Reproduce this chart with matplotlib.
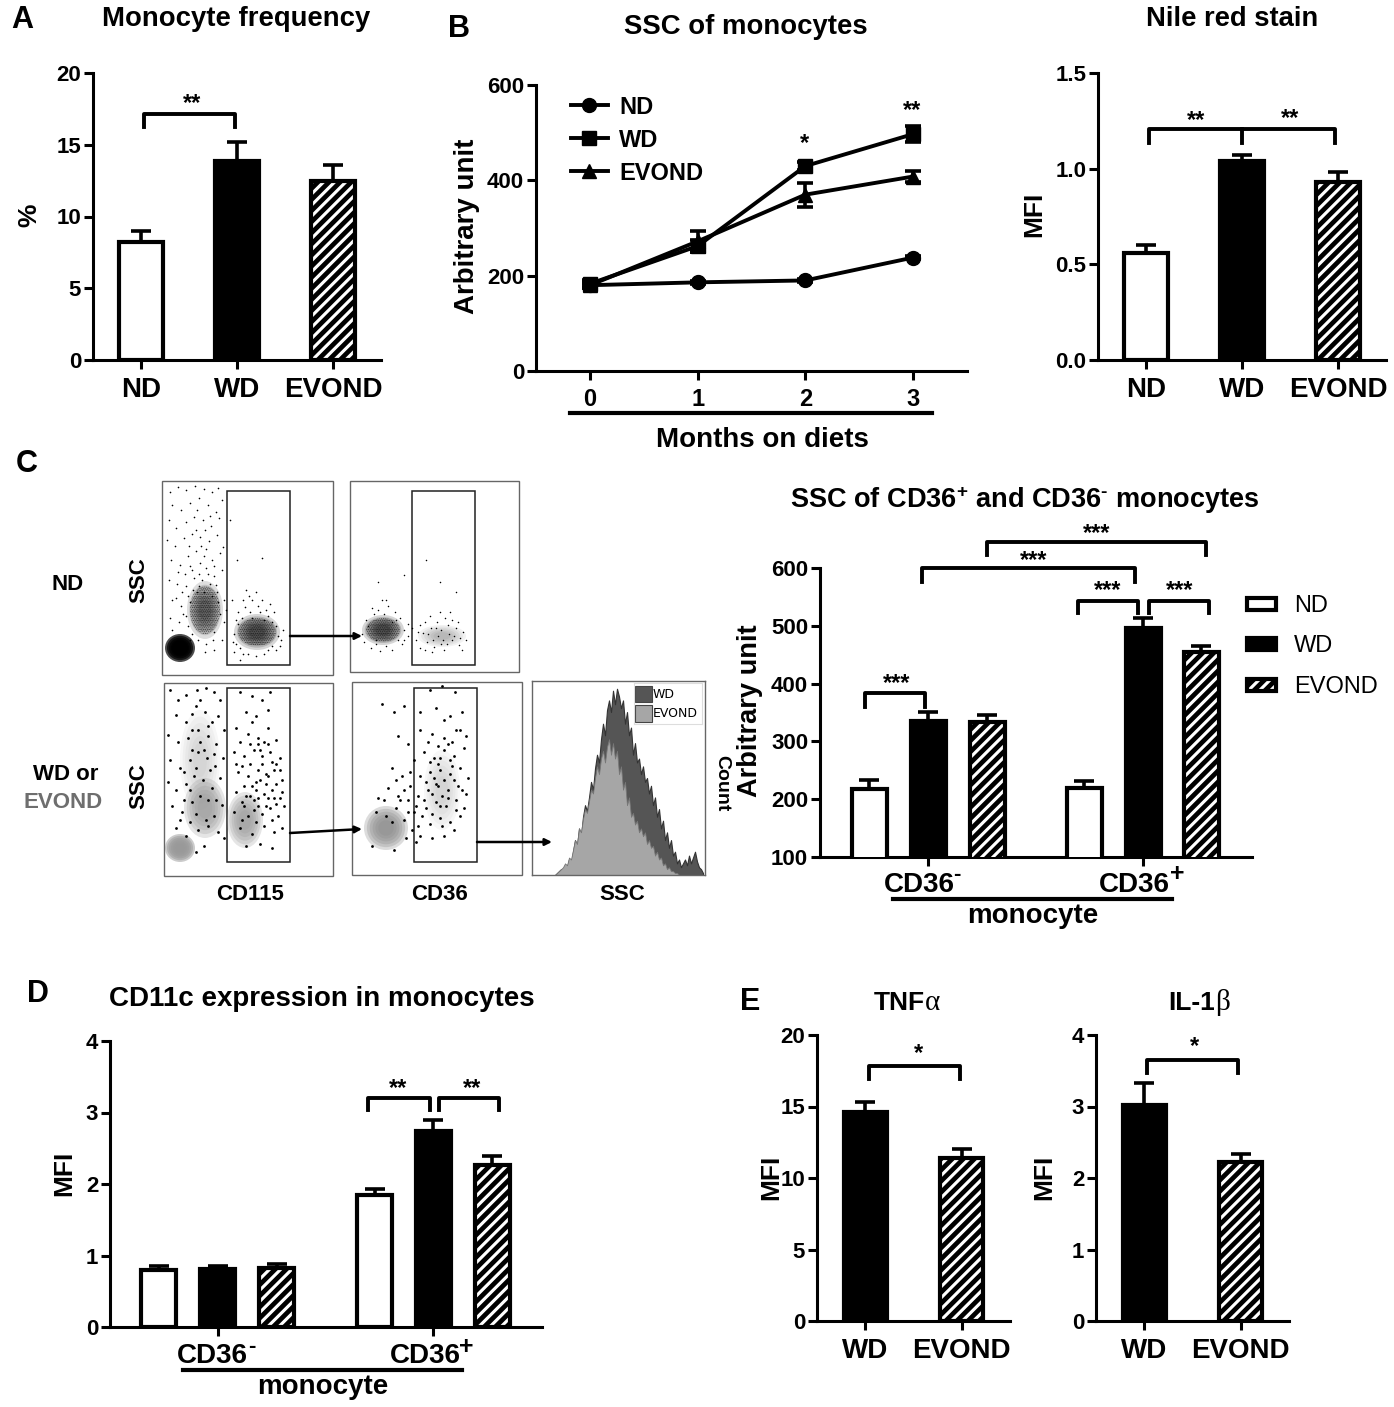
import numpy as np
import matplotlib
matplotlib.use("Agg")
import matplotlib.pyplot as plt
from matplotlib.lines import Line2D
from matplotlib.patches import Rectangle, Ellipse

plt.rcParams['font.family'] = ['Liberation Sans', 'DejaVu Sans']
plt.rcParams['mathtext.fontset'] = 'custom'
plt.rcParams['mathtext.rm'] = 'Liberation Sans'
plt.rcParams['mathtext.bf'] = 'Liberation Sans:bold'
plt.rcParams['hatch.linewidth'] = 3.4

W, H = 1394, 1407

# bar data (value, top of error bar)
diets = ['ND', 'WD', 'EVOND']
freq_vals = [8.2, 13.9, 12.5]
freq_tops = [9.0, 15.2, 13.6]
nile_vals = [0.56, 1.04, 0.93]
nile_tops = [0.60, 1.07, 0.98]

months = [0, 1, 2, 3]
ssc_nd = [180, 186, 190, 238]
ssc_wd = [183, 262, 430, 497]
ssc_ev = [180, 272, 370, 408]
ssc_nd_err = [3, 3, 3, 3]
ssc_wd_err = [8, 12, 8, 16]
ssc_ev_err = [6, 22, 25, 12]

cd36_vals = [218, 336, 333, 220, 496, 454]
cd36_tops = [234, 351, 346, 232, 513, 465]
cd11c_vals = [0.80, 0.81, 0.82, 1.85, 2.74, 2.27]
cd11c_tops = [0.86, 0.86, 0.88, 1.93, 2.90, 2.39]

tnf_vals = [14.6, 11.4]
tnf_tops = [15.3, 12.0]
il1_vals = [3.02, 2.23]
il1_tops = [3.33, 2.33]

# flow cytometry dots
nd_cd115 = [(170,492),(178,487),(186,490),(195,486),(204,489),(212,492),(218,488),(172,505),(181,510),(190,503),
            (199,498),(208,505),(216,512),(222,500),(169,520),(176,528),(186,522),(194,517),(203,520),(211,526),
            (219,518),(167,540),(175,546),(184,538),(192,534),(200,537),(209,541),(217,535),(223,547),(171,560),
            (180,565),(188,556),(196,551),(204,556),(212,560),(220,553),(169,580),(177,584),(185,574),(192,570),
            (199,574),(206,568),(214,576),(222,570),(172,600),(181,606),(188,596),(193,590),(199,586),(210,584),
            (217,592),(224,600),(170,618),(179,622),(186,616),(224,622),(222,640),(214,650),(172,630),(226,610),
            (230,520),(237,560),(262,558),(232,600),(238,612),(245,607),(252,600),(258,606),(266,610),(274,612),
            (234,652),(276,650),(240,660),(281,640),(283,630),(236,620),(272,622),(190,640),(205,652),(213,640),
            (196,530),(201,546),(206,549),(190,566),(194,578),(202,580),(208,574),(197,592),(204,592),(212,596),
            (186,586),(190,602),(183,614),(188,626),(192,634),(198,640),(206,644),(214,632),(220,614),(218,602),
            (176,598),(182,592),(214,566),(205,530),(197,510),(210,516),(189,546),(178,572),(216,585),(200,563),
            (238,624),(234,634),(233,642),(240,648),(248,654),(256,656),(264,654),(272,646),(278,636),(276,626),
            (268,616),(260,612),(250,612),(242,618),(236,644),(252,618),(264,620),(243,654),(268,650),(280,646),
            (249,596),(256,592),(262,600),(243,600),(270,604),(246,590)]
nd_cd36 = [(378,582),(382,600),(372,608),(388,606),(395,612),(366,620),(400,618),(404,630),(362,634),(364,642),
           (371,648),(380,651),(392,650),(402,644),(408,636),(412,628),(416,640),(420,625),(423,633),(427,642),
           (431,628),(434,647),(437,622),(441,630),(444,650),(448,625),(452,640),(456,628),(459,645),(463,632),
           (466,640),(462,650),(445,618),(440,582),(426,560),(456,592),(404,575),(384,614),(392,622),(376,640),
           (378,610),(386,600),(374,614),(368,626),(396,620),(398,640),(386,646),(376,644),(408,624),(404,640),
           (418,632),(425,622),(433,640),(438,636),(443,640),(449,634),(454,636),(447,644),(441,644),(436,628),
           (428,634),(452,620),(458,622),(460,638),(432,652),(425,650),(440,612),(450,612),(430,616),(420,648)]
mix_cd115 = [(170,690),(178,700),(186,695),(197,690),(206,688),(214,692),(220,700),(176,715),(186,722),(196,706),
             (205,712),(212,722),(218,716),(168,735),(178,742),(188,738),(198,730),(208,736),(216,744),(224,730),
             (170,760),(180,768),(190,760),(198,752),(207,758),(215,766),(223,758),(168,782),(176,790),(186,784),
             (194,776),(203,780),(212,788),(220,778),(172,806),(182,812),(192,802),(222,805),(214,816),(176,828),
             (186,836),(198,830),(208,826),(218,832),(224,838),(196,852),(204,846),
             (240,692),(252,696),(262,700),(270,692),(246,712),(256,716),(268,710),(236,728),(248,734),(258,738),
             (268,728),(276,740),(234,752),(244,756),(254,750),(262,756),(270,752),(280,758),(238,772),(248,776),
             (258,770),(266,774),(274,770),(282,780),(236,792),(246,796),(256,790),(264,794),(272,790),(280,798),
             (234,812),(244,806),(254,810),(262,814),(270,808),(278,816),(284,806),(240,828),(252,834),(264,826),
             (274,832),(282,828),(246,846),(260,844),(272,848),(258,806),(250,764),(266,784),(244,786),(272,762),
             (256,782),(262,764),(268,798),(276,804),(248,816),(258,744),(252,722),(240,742),(264,742),(254,800),
             (200,700),(192,714),(208,726),(200,742),(192,750),(204,750),(210,770),(196,768),(184,772),(200,796),
             (190,790),(208,800),(184,800),(196,814),(206,820),(216,800),(190,822),(180,820),(214,754),(192,730),
             (250,744),(260,750),(268,744),(242,766),(276,764),(252,786),(260,780),(268,776),(276,784),(242,802),
             (250,796),(258,798),(266,806),(274,798),(282,792),(236,764),(242,820),(256,822),(272,820),(280,770)]
mix_cd36 = [(382,704),(394,712),(404,706),(430,690),(442,686),(455,692),(420,712),(436,708),(450,716),(462,712),
            (398,736),(408,744),(420,730),(432,734),(444,738),(456,730),(466,736),(392,768),(402,776),(414,760),
            (424,752),(434,758),(444,750),(454,756),(464,748),(388,788),(398,796),(410,786),(420,776),(430,772),
            (440,770),(450,774),(460,768),(468,778),(376,812),(386,816),(396,808),(408,800),(418,796),(428,790),
            (438,786),(448,790),(458,786),(466,794),(404,820),(414,812),(426,808),(436,802),(446,806),(456,800),
            (464,808),(406,838),(418,826),(430,824),(440,818),(450,822),(460,816),(416,842),(432,838),(444,836),
            (454,830),(436,784),(442,796),(450,760),(452,742),(438,764),(460,730),(444,720),(394,850),(372,846),
            (428,742),(438,746),(448,744),(430,762),(440,758),(452,766),(426,782),(434,778),(444,780),(454,780),
            (462,790),(432,794),(440,806),(448,798),(456,810),(424,800),(432,814),(442,826),(422,816),(410,772),
            (404,790),(396,780),(416,806),(408,812),(400,800),(392,822),(384,800),(378,798),(412,830),(420,836)]

# histogram of SSC, height in percent of the panel
hist_wd = [0,1,2,3,2,5,4,8,6,12,18,15,24,20,30,36,33,40,48,44,55,62,58,70,78,72,85,90,84,95,88,96,92,86,90,78,84,72,
           76,62,68,58,60,52,56,48,50,42,46,36,40,30,34,24,28,18,22,14,18,10,12,6,8,4,6,8,5,10,6,9,12,7,4,3,1]
hist_ev = [0,1,2,3,4,6,5,9,8,13,18,16,24,22,29,34,32,38,44,42,50,56,52,60,64,58,66,70,62,68,60,64,52,56,44,48,36,40,
           30,32,26,28,22,24,20,22,16,18,14,15,10,12,8,9,5,6,3,4,2,2,1,1,0,0,0,0,0,0,0,0,0,0,0,0,0]

fig = plt.figure(figsize=(W / 100, H / 100), dpi=100)


def make_ax(left, right, top, bottom, ylim, yticks, fs=16):
    ax = fig.add_axes([left / W, 1 - bottom / H, (right - left) / W, (bottom - top) / H])
    ax.patch.set_alpha(0)
    for s in ['top', 'right']:
        ax.spines[s].set_visible(False)
    for s in ['left', 'bottom']:
        ax.spines[s].set_linewidth(2.2)
    ax.set_ylim(*ylim)
    ax.set_yticks(yticks)
    ax.tick_params(width=2.2, length=6.5, pad=2)
    ax.tick_params(axis='x', pad=6)
    for lab in ax.get_yticklabels():
        lab.set_fontsize(fs)
        lab.set_fontweight('bold')
    return ax


def draw_bars(ax, xs, vals, tops, kinds, width):
    for x, v, t, k in zip(xs, vals, tops, kinds):
        fc = {'ND': 'white', 'WD': 'black', 'EVOND': 'white'}[k]
        ax.errorbar(x, v, yerr=[[0], [t - v]], fmt='none', ecolor='black', elinewidth=2.6, capsize=7.5, capthick=2.6)
        ax.bar(x, v, width=width, facecolor=fc, edgecolor='black', linewidth=3,
               hatch='///' if k == 'EVOND' else None, zorder=3)


# panel A
ax_a = make_ax(93, 381, 73, 360, (0, 20), [0, 5, 10, 15, 20])
draw_bars(ax_a, range(3), freq_vals, freq_tops, diets, 0.45)
ax_a.set_xlim(-0.5, 2.5)
ax_a.set_xticks(range(3))
ax_a.set_xticklabels(diets, fontsize=20, fontweight='bold')

# Nile red
ax_n = make_ax(1098, 1386, 73, 360, (0, 1.5), [0, 0.5, 1.0, 1.5])
draw_bars(ax_n, range(3), nile_vals, nile_tops, diets, 0.45)
ax_n.set_xlim(-0.5, 2.5)
ax_n.set_xticks(range(3))
ax_n.set_xticklabels(diets, fontsize=20, fontweight='bold')

# panel B
ax_b = make_ax(536, 967, 85, 371, (0, 600), [0, 200, 400, 600])
for vals, errs, mk in [(ssc_nd, ssc_nd_err, 'o'), (ssc_ev, ssc_ev_err, '^'), (ssc_wd, ssc_wd_err, 's')]:
    ax_b.errorbar(months, vals, yerr=errs, color='black', marker=mk, ms=10, lw=2.8,
                  elinewidth=2.6, capsize=6, capthick=2.6, clip_on=False)
ax_b.set_xlim(-0.5, 3.5)
ax_b.set_xticks(months)
ax_b.set_xticklabels(months, fontsize=17, fontweight='bold')
handles = [Line2D([], [], color='black', lw=2.8, marker=m, ms=10) for m in 'os^']
ax_b.legend(handles, diets, loc='upper left', bbox_to_anchor=(0.032, 1.037),
            frameon=False, handlelength=1.55, labelspacing=0.42, handletextpad=0.5,
            prop={'size': 17, 'weight': 'bold'})

# panel C bars
ax_c = make_ax(820, 1252, 568, 857, (100, 600), [100, 200, 300, 400, 500, 600])
cx = [869, 928, 987, 1084, 1143, 1201]
draw_bars(ax_c, cx, cd36_vals, cd36_tops, diets * 2, 35)
ax_c.set_xlim(820, 1252)
ax_c.set_xticks([928, 1143])
ax_c.set_xticklabels([])

# panel D
ax_d = make_ax(110, 542, 1041, 1327, (0, 4), [0, 1, 2, 3, 4])
dx = [158.5, 217.5, 276.5, 374.5, 433, 492]
draw_bars(ax_d, dx, cd11c_vals, cd11c_tops, diets * 2, 35)
ax_d.set_xlim(110, 542)
ax_d.set_xticks([217.5, 433])
ax_d.set_xticklabels([])

# panel E
ax_t = make_ax(817, 1010, 1035, 1321, (0, 20), [0, 5, 10, 15, 20])
draw_bars(ax_t, range(2), tnf_vals, tnf_tops, diets[1:], 0.45)
ax_t.set_xlim(-0.5, 1.5)
ax_t.set_xticks(range(2))
ax_t.set_xticklabels(diets[1:], fontsize=20, fontweight='bold')

ax_i = make_ax(1096, 1289, 1035, 1321, (0, 4), [0, 1, 2, 3, 4])
draw_bars(ax_i, range(2), il1_vals, il1_tops, diets[1:], 0.45)
ax_i.set_xlim(-0.5, 1.5)
ax_i.set_xticks(range(2))
ax_i.set_xticklabels(diets[1:], fontsize=20, fontweight='bold')

# overlay in picture pixels for labels, brackets and the flow panels
ov = fig.add_axes([0, 0, 1, 1], zorder=5)
ov.set_xlim(0, W)
ov.set_ylim(H, 0)
ov.axis('off')


def txt(x, y, s, fs=19, weight='bold', rot=0, **kw):
    if rot:
        x += 2
    else:
        y += 2
    ov.text(x, y, s, fontsize=fs, fontweight=weight, rotation=rot, ha=kw.pop('ha', 'center'), va='center', **kw)


def bracket(x0, x1, top, drop, stars=None, sx=None, sy=None, mid=None):
    ov.plot([x0, x0, x1, x1], [drop, top, top, drop], color='black', lw=2.8, solid_joinstyle='round')
    if mid is not None:
        ov.plot([mid, mid], [top, drop], color='black', lw=2.8)
    if stars:
        ov.text(sx, sy + 4, stars, fontsize=17, fontweight='bold', ha='center', va='center')


for s, x, y in [('A', 22, 18), ('B', 459, 27), ('C', 27, 462), ('D', 38, 992), ('E', 750, 1000)]:
    txt(x, y, s, fs=22)

txt(236, 17, 'Monocyte frequency', fs=19.8)
txt(746, 25, 'SSC of monocytes', fs=19.8)
txt(1232, 17, 'Nile red stain', fs=19.7)
txt(1025, 498, 'SSC of CD36$\\mathbf{^{+}}$ and CD36$\\mathbf{^{\u2010}}$ monocytes', fs=19.5)
txt(322, 997, 'CD11c expression in monocytes', fs=20)
txt(925, 1001, 'TNF', ha='right')
txt(925, 1001, '\u03b1', ha='left', family='Liberation Serif', weight='normal', fs=21)
txt(1215, 1001, 'IL-1', ha='right')
txt(1215, 1001, '\u03b2', ha='left', family='Liberation Serif', weight='normal', fs=21)

txt(27, 215, '%', rot=90)
txt(465, 226, 'Arbitrary unit', fs=20, rot=90)
txt(1032, 214, 'MFI', rot=90)
txt(748, 711, 'Arbitrary unit', fs=19.6, rot=90)
txt(720, 783, 'Count', fs=14, rot=270)
txt(62, 1173, 'MFI', rot=90)
txt(769, 1177, 'MFI', rot=90)
txt(1042, 1177, 'MFI', rot=90)

# axis captions under the bars
ov.plot([570, 932], [413, 413], color='black', lw=3)
txt(762, 438, 'Months on diets', fs=20)
txt(919, 883, 'CD36', fs=20)
txt(957, 873, '-', fs=16)
txt(1134, 883, 'CD36', fs=20)
txt(1177, 872, '+', fs=18)
ov.plot([893, 1172], [899, 899], color='black', lw=3)
txt(1033, 914, 'monocyte', fs=20)
txt(212, 1354, 'CD36', fs=20)
txt(252, 1344, '-', fs=16)
txt(425, 1354, 'CD36', fs=20)
txt(466, 1345, '+', fs=18)
ov.plot([183, 462], [1370, 1370], color='black', lw=3)
txt(323, 1385, 'monocyte', fs=20)

# significance
bracket(144, 235, 114, 127, '**', 192, 100)
bracket(1149, 1335, 129, 143, mid=1242)
txt(1196, 119, '**', fs=17)
txt(1290, 117, '**', fs=17)
txt(805, 142, '*', fs=17)
txt(912, 109, '**', fs=17)
bracket(865, 925, 693, 707, '***', 897, 680)
bracket(1078, 1138, 601, 613, '***', 1108, 587)
bracket(1149, 1209, 601, 613, '***', 1180, 587)
bracket(922, 1135, 568, 582, '***', 1034, 557)
bracket(987, 1206, 542, 555, '***', 1097, 530)
bracket(368, 430, 1098, 1110, '**', 398, 1085)
bracket(439, 499, 1098, 1110, '**', 472, 1085)
bracket(869, 960, 1066, 1079, '*', 918, 1050)
bracket(1147, 1238, 1060, 1073, '*', 1194, 1043)

# legend of panel C
for y, k, fc in [(604, 'ND', 'white'), (644, 'WD', 'black'), (685, 'EVOND', 'white')]:
    ov.add_patch(Rectangle((1247, y - 6), 29, 12, facecolor=fc, edgecolor='black', linewidth=3,
                           hatch='///' if k == 'EVOND' else None))
    txt(1294, y, k, fs=17, weight='normal', ha='left')

# flow panels
gray_frame = '#666666'
for x0, y0, x1, y1 in [(162, 481, 333, 675), (350, 481, 519, 672), (164, 683, 333, 876), (352, 682, 522, 875)]:
    ov.add_patch(Rectangle((x0, y0), x1 - x0, y1 - y0, fill=False, edgecolor=gray_frame, lw=1.0))
for x0, y0, x1, y1 in [(227, 491, 290, 665), (412, 491, 475, 665), (227, 688, 290, 862), (414, 688, 477, 862)]:
    ov.add_patch(Rectangle((x0, y0), x1 - x0, y1 - y0, fill=False, edgecolor='#222222', lw=1.1))


def blob(cx_, cy_, rx, ry, color, n=6, a=0.22):
    # nested ellipses to look like a dense cloud of events
    for f in np.linspace(1, 0.35, n):
        ov.add_patch(Ellipse((cx_, cy_), 2 * rx * f, 2 * ry * f, facecolor=color, edgecolor='none', alpha=a))


def speck(cx_, cy_, rx, ry, hatches, a=0.8):
    # dotted hatches for the scatter texture in the core of a cloud
    for h in hatches:
        e = Ellipse((cx_, cy_), 2 * rx, 2 * ry, facecolor='none', edgecolor='black', linewidth=0, hatch=h, alpha=a)
        if hasattr(e, 'set_hatch_linewidth'):
            e.set_hatch_linewidth(0.25)
        ov.add_patch(e)


blob(180, 648, 15, 14, 'black', a=0.7)
blob(205, 610, 18, 29, 'black', a=0.13)
blob(257, 632, 23, 18, 'black', a=0.16)
blob(383, 630, 21, 15, 'black', a=0.16)
blob(442, 636, 24, 11, 'black', a=0.05)
speck(205, 610, 15, 24, ['.' * 9, '.' * 13])
speck(257, 632, 19, 14, ['.' * 9, '.' * 13])
speck(383, 630, 17, 12, ['.' * 9, '.' * 13])

blob(180, 848, 15, 14, '#999999', a=0.5)
blob(205, 808, 21, 30, '#999999', a=0.25)
blob(245, 820, 18, 28, '#999999', a=0.25)
blob(386, 828, 22, 22, '#8c8c8c', a=0.3)
blob(200, 760, 20, 50, '#999999', a=0.08)
blob(442, 790, 18, 40, '#999999', a=0.08)

for pts, size in [(nd_cd115, 1.4), (nd_cd36, 1.2), (mix_cd115, 4), (mix_cd36, 4)]:
    arr = np.array(pts)
    ov.scatter(arr[:, 0], arr[:, 1], s=size, color='black', linewidths=0)

# arrows between gates
for x0, y0, x1, y1 in [(290, 636, 362, 636), (290, 833, 362, 829), (477, 842, 552, 842)]:
    ov.annotate('', xy=(x1, y1), xytext=(x0, y0),
                arrowprops=dict(arrowstyle='-|>', color='black', lw=1.8, shrinkA=0, shrinkB=0, mutation_scale=10))

# histogram
ax_h = fig.add_axes([532 / W, 1 - 875 / H, 173 / W, 194 / H], zorder=4)
ax_h.fill_between(range(len(hist_wd)), hist_wd, color='#555555', edgecolor='#333333', lw=0.8)
ax_h.fill_between(range(len(hist_ev)), hist_ev, color='#a6a6a6', edgecolor='#777777', lw=0.6)
ax_h.set_xlim(-11.5, 75)
ax_h.set_ylim(0, 100)
ax_h.set_xticks([])
ax_h.set_yticks([])
for s in ax_h.spines.values():
    s.set_color(gray_frame)
    s.set_linewidth(1.0)
ov_h = ax_h.inset_axes([0.59, 0.78, 0.39, 0.21])
ov_h.set_xticks([])
ov_h.set_yticks([])
for s in ov_h.spines.values():
    s.set_color('#dddddd')
for y, c, lab in [(0.72, '#555555', 'WD'), (0.25, '#a6a6a6', 'EVOND')]:
    ov_h.add_patch(Rectangle((0.02, y - 0.2), 0.24, 0.4, facecolor=c, edgecolor='#444444', lw=0.8))
    ov_h.text(0.28, y, lab, fontsize=9, va='center', ha='left', family='DejaVu Sans')

# flow labels
txt(68, 583, 'ND', fs=16)
txt(66, 773, 'WD or', fs=16)
txt(63, 800, 'EVOND', fs=16, color='#6e6e6e')
txt(137, 580, 'SSC', fs=16, rot=90)
txt(137, 786, 'SSC', fs=16, rot=90)
txt(250, 893, 'CD115', fs=16)
txt(439, 893, 'CD36', fs=16)
txt(622, 893, 'SSC', fs=16)

fig.savefig('out.png', dpi=100)
